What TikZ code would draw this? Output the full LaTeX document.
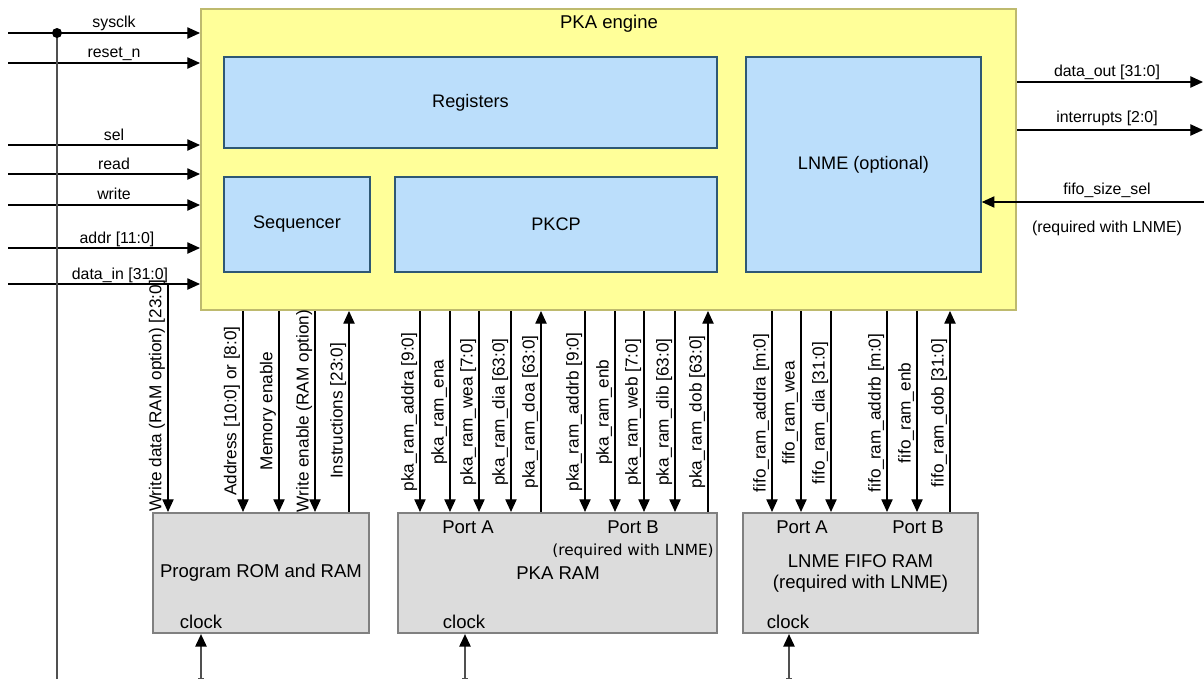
\documentclass[tikz,border=0pt]{standalone}
\usepackage{fontspec}
\setmainfont{Liberation Sans}
\newfontfamily\dvs{DejaVu Sans}
\usetikzlibrary{arrows.meta}
\definecolor{engfill}{RGB}{255,255,153}
\definecolor{engdraw}{RGB}{190,186,110}
\definecolor{blkfill}{RGB}{187,222,251}
\definecolor{blkdraw}{RGB}{46,88,116}
\definecolor{memfill}{RGB}{220,220,220}
\definecolor{memdraw}{RGB}{128,128,128}
\definecolor{clkgray}{RGB}{80,80,80}
\begin{document}
\begin{tikzpicture}[x=0.75pt,y=-0.75pt,
  engbox/.style={draw=engdraw,fill=engfill,line width=1.5pt,inner sep=0pt},
  blkbox/.style={draw=blkdraw,fill=blkfill,line width=1.2pt,inner sep=0pt,font=\fontsize{13.6}{16}\selectfont},
  membox/.style={draw=memdraw,fill=memfill,line width=1.6pt,inner sep=0pt,align=center,font=\fontsize{13.9}{15.75}\selectfont},
  lab/.style={font=\fontsize{11.9}{13}\selectfont,inner sep=0pt},
  boxt/.style={font=\fontsize{13.9}{16}\selectfont,inner sep=0pt},
  vlab/.style={font=\fontsize{12.9}{14}\selectfont,rotate=90,anchor=south,inner sep=2pt},
  sig/.style={draw=black,line width=0.9pt},
  clk/.style={draw=clkgray,line width=1.4pt},
  down/.style={-{Triangle[length=9.5pt,width=8.5pt,fill=black]}},
  up/.style={{Triangle[length=9.5pt,width=8.5pt,fill=black]}-},
  tip/.style={-{Triangle[length=9.5pt,width=8.5pt,fill=black]}},
  clktip/.style={{Bar[width=4pt,line width=1pt]}-{Triangle[length=9.5pt,width=8.5pt,black,fill=black]}}
]
\useasboundingbox (0,0) rectangle (1204,679);

% engine and blocks
\node[engbox,minimum width=611.25pt,minimum height=225.75pt] (eng) at (608.5,159.5) {};
\node[boxt] (engt) at (609,24) {PKA engine};
\node[blkbox,minimum width=369.75pt,minimum height=68.25pt] (reg) at (470.5,102.5) {Registers};
\node[blkbox,minimum width=176.25pt,minimum height=161.25pt] (lnme) at (863.5,164.5) {LNME (optional)};
\node[blkbox,minimum width=109.5pt,minimum height=71.25pt] (seq) at (297,224.5) {Sequencer};
\node[blkbox,minimum width=241.5pt,minimum height=71.25pt] (pkcp) at (556,224.5) {PKCP};

% memories
\node[membox,minimum width=162pt,minimum height=90pt] (rom) at (261,573) {Program ROM and RAM};
\node[membox,minimum width=239.25pt,minimum height=90pt] (pram) at (557.5,573) {};
\node[membox,minimum width=176.25pt,minimum height=90pt] (fram) at (860.5,573) {LNME FIFO RAM\\(required with LNME)};
\node[boxt] (pramt) at (558,573) {PKA RAM};
\node[boxt] (pa) at (468,527) {Port A};
\node[boxt] (pb) at (633,527) {Port B};
\node[font=\dvs\fontsize{11.5}{13}\selectfont,inner sep=0pt] (preq) at (633,551) {(required with LNME)};
\node[boxt] (fa) at (802,527) {Port A};
\node[boxt] (fb) at (918,527) {Port B};
\node[boxt] (c1) at (201,622) {clock};
\node[boxt] (c2) at (464,622) {clock};
\node[boxt] (c3) at (788,622) {clock};

% left inputs
\coordinate (i1) at (8,33);
\coordinate (i2) at (8,63);
\coordinate (i3) at (8,145);
\coordinate (i4) at (8,174);
\coordinate (i5) at (8,205);
\coordinate (i6) at (8,248);
\coordinate (i7) at (8,284);
\foreach \c in {i1,i2,i3,i4,i5,i6,i7} {\draw[sig,tip] (\c) -- (\c -| eng.west);}
\node[lab] (l1) at (114,23) {sysclk};
\node[lab] (l2) at (114,54) {reset\_n};
\node[lab] (l3) at (114,135) {sel};
\node[lab] (l4) at (114,164) {read};
\node[lab] (l5) at (114,194) {write};
\node[lab] (l6) at (117,239) {addr [11:0]};
\node[lab] (l7) at (120,275) {data\_in [31:0]};

% clock bus
\coordinate (clkj) at (57,33);
\coordinate (clkb) at (57,679);
\draw[clk] (clkb) -- (clkj);
\fill[black] (clkj) circle (5);
\coordinate (k1) at (201,679);
\coordinate (k2) at (465,679);
\coordinate (k3) at (789,679);
\draw[clk,clktip] (k1) -- (k1 |- rom.south);
\draw[clk,clktip] (k2) -- (k2 |- pram.south);
\draw[clk,clktip] (k3) -- (k3 |- fram.south);

% right side
\coordinate (o1) at (1203,82);
\coordinate (o2) at (1203,130);
\coordinate (o3) at (1204,202);
\draw[sig,tip] (o1 -| eng.east) -- (o1);
\draw[sig,tip] (o2 -| eng.east) -- (o2);
\draw[sig,tip] (o3) -- (o3 -| lnme.east);
\node[lab] (r1) at (1107,72) {data\_out [31:0]};
\node[lab] (r2) at (1107,118) {interrupts [2:0]};
\node[lab] (r3) at (1107,190) {fifo\_size\_sel};
\node[lab] (r4) at (1107,228) {(required with LNME)};

% program ROM signals
\coordinate (wd) at (168,396);
\draw[sig,down] (i7 -| wd) -- (rom.north -| wd);
\node[vlab] (wdl) at (wd) {Write data (RAM option) [23:0]};
\foreach \x/\t/\d [count=\i] in {243/{Address [10:0] or [8:0]}/down, 279/{Memory enable}/down, 315/{Write enable (RAM option)}/down, 349/{Instructions [23:0]}/up} {
  \coordinate (rs\i) at (\x,411);
  \draw[sig,\d] (eng.south -| rs\i) -- (rom.north -| rs\i);
  \node[vlab] (rsl\i) at (rs\i) {\t};
}

% PKA RAM signals
\foreach \x/\t/\d [count=\i] in {420/{pka\_ram\_addra [9:0]}/down, 450/{pka\_ram\_ena}/down, 479/{pka\_ram\_wea [7:0]}/down, 511/{pka\_ram\_dia [63:0]}/down, 541/{pka\_ram\_doa [63:0]}/up, 585/{pka\_ram\_addrb [9:0]}/down, 615/{pka\_ram\_enb}/down, 644/{pka\_ram\_web [7:0]}/down, 675/{pka\_ram\_dib [63:0]}/down, 708/{pka\_ram\_dob [63:0]}/up} {
  \coordinate (ps\i) at (\x,412);
  \draw[sig,\d] (eng.south -| ps\i) -- (pram.north -| ps\i);
  \node[vlab] (psl\i) at (ps\i) {\t};
}

% FIFO RAM signals
\foreach \x/\t/\d [count=\i] in {772/{fifo\_ram\_addra [m:0]}/down, 801/{fifo\_ram\_wea}/down, 831/{fifo\_ram\_dia [31:0]}/down, 887/{fifo\_ram\_addrb [m:0]}/down, 917/{fifo\_ram\_enb}/down, 950/{fifo\_ram\_dob [31:0]}/up} {
  \coordinate (fs\i) at (\x,413);
  \draw[sig,\d] (eng.south -| fs\i) -- (fram.north -| fs\i);
  \node[vlab] (fsl\i) at (fs\i) {\t};
}
\end{tikzpicture}
\end{document}
